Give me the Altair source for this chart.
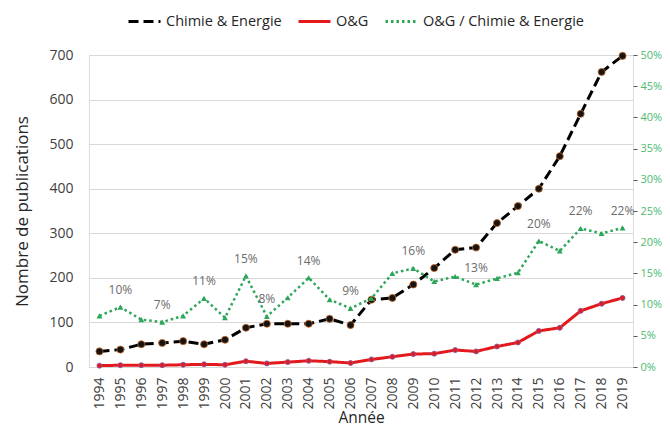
import altair as alt
import pandas as pd

years = [str(y) for y in range(1994, 2020)]
chimie = [35, 39, 51, 54, 58, 51, 61, 88, 97, 97, 97, 108, 94, 151, 155, 185,
          222, 263, 268, 323, 361, 400, 473, 568, 662, 698]
og = [3, 4, 4, 4, 5, 6, 5, 13, 8, 11, 14, 12, 9, 17, 23, 29,
      30, 38, 35, 46, 55, 81, 88, 126, 142, 155]
ratio = [0.082, 0.096, 0.076, 0.072, 0.082, 0.110, 0.079, 0.146, 0.081, 0.111,
         0.143, 0.108, 0.094, 0.110, 0.150, 0.158, 0.137, 0.145, 0.132, 0.142,
         0.151, 0.202, 0.186, 0.222, 0.214, 0.223]
label_years = ["1995", "1997", "1999", "2001", "2002", "2004", "2006", "2009",
               "2012", "2015", "2017", "2019"]

S1, S2, S3 = "Chimie & Energie", "O&G", "O&G / Chimie & Energie"
series_domain = [S1, S2, S3]

counts = pd.concat([
    pd.DataFrame({"Année": years, "value": chimie, "series": S1}),
    pd.DataFrame({"Année": years, "value": og, "series": S2}),
])
df_c = counts[counts.series == S1]
df_o = counts[counts.series == S2]
df_r = pd.DataFrame({"Année": years, "ratio": ratio, "series": S3})
df_r["label"] = [f"{round(r * 100)}%" if y in label_years else "" for y, r in zip(years, ratio)]
df_l = df_r[df_r.label != ""]

FONT = "Open Sans"
color_scale = alt.Scale(domain=series_domain, range=["#000000", "#e3191c", "#2ea65a"])
dash_scale = alt.Scale(domain=series_domain, range=[[10, 5], [1, 0], [2.5, 3]])

x_enc = alt.X("Année:O", scale=alt.Scale(type="point", padding=0.5),
              axis=alt.Axis(labelAngle=-90, labelFontSize=14, labelColor="#404040",
                            labelFont=FONT, ticks=False, domain=False, grid=False,
                            title="Année", titleFontSize=15.5, titleFont=FONT,
                            titleFontWeight="normal", titleColor="#262626",
                            titlePadding=1, labelPadding=10))

legend = alt.Legend(orient="none", legendX=38, legendY=-51, direction="horizontal",
                    title=None, symbolType="stroke", symbolSize=1024,
                    symbolStrokeWidth=3, labelFontSize=14.5, labelFont=FONT,
                    labelColor="#262626", columnPadding=10, labelOffset=4,
                    labelLimit=400)

y_left = alt.Y("value:Q", scale=alt.Scale(domain=[0, 700]),
               axis=alt.Axis(values=list(range(0, 701, 100)), grid=True,
                             gridColor="#d9d9d9", domain=False, ticks=False,
                             labelFontSize=14, labelFont=FONT, labelColor="#404040",
                             labelPadding=16, title="Nombre de publications",
                             titleFontSize=17, titleFont=FONT, titleFontWeight="normal",
                             titleColor="#262626", titlePadding=17))

count_lines = alt.Chart(counts).mark_line(strokeWidth=3, strokeCap="butt").encode(
    x=x_enc, y=y_left,
    color=alt.Color("series:N", scale=color_scale, legend=legend),
    strokeDash=alt.StrokeDash("series:N", scale=dash_scale, legend=legend),
    detail="series:N",
)
c_pts = alt.Chart(df_c).mark_circle(size=50, color="#141414", stroke="#c8621e",
                                    strokeWidth=0.8, opacity=1).encode(x=x_enc, y=y_left)
o_pts = alt.Chart(df_o).mark_circle(size=25, color="#e3191c", stroke="#8a5a9e",
                                    strokeWidth=0.9, opacity=1).encode(x=x_enc, y=y_left)

y_right = alt.Y("ratio:Q", scale=alt.Scale(domain=[0, 0.5]),
                axis=alt.Axis(orient="right", format=".0%",
                              values=[i / 100 for i in range(0, 51, 5)], grid=False,
                              domain=False, ticks=True, tickSize=4, tickColor="#595959",
                              labelFontSize=11, labelFont=FONT, labelColor="#4cba72",
                              labelPadding=3, title=None))

r_line = alt.Chart(df_r).mark_line(strokeWidth=2.5, strokeCap="butt").encode(
    x=x_enc, y=y_right,
    color=alt.Color("series:N", scale=color_scale, legend=legend),
    strokeDash=alt.StrokeDash("series:N", scale=dash_scale, legend=legend),
)
r_pts = alt.Chart(df_r).mark_point(shape="triangle-up", filled=True, size=35,
                                   color="#2ea65a", opacity=1).encode(x=x_enc, y=y_right)
r_txt = alt.Chart(df_l).mark_text(dy=-17, fontSize=12, font=FONT, color="#6b6b6b").encode(
    x=x_enc, y=y_right, text="label:N")

chart = alt.layer(
    alt.layer(count_lines, c_pts, o_pts),
    alt.layer(r_line, r_pts, r_txt),
).resolve_scale(y="independent").properties(
    width=544, height=312,
    autosize=alt.AutoSizeParams(type="none"),
    padding={"left": 81, "top": 47, "right": 29, "bottom": 60},
).configure_view(stroke="#7f7f7f", strokeWidth=1).configure(background="white")

chart.save("out.html", embed_options={"renderer": "svg", "actions": False})
